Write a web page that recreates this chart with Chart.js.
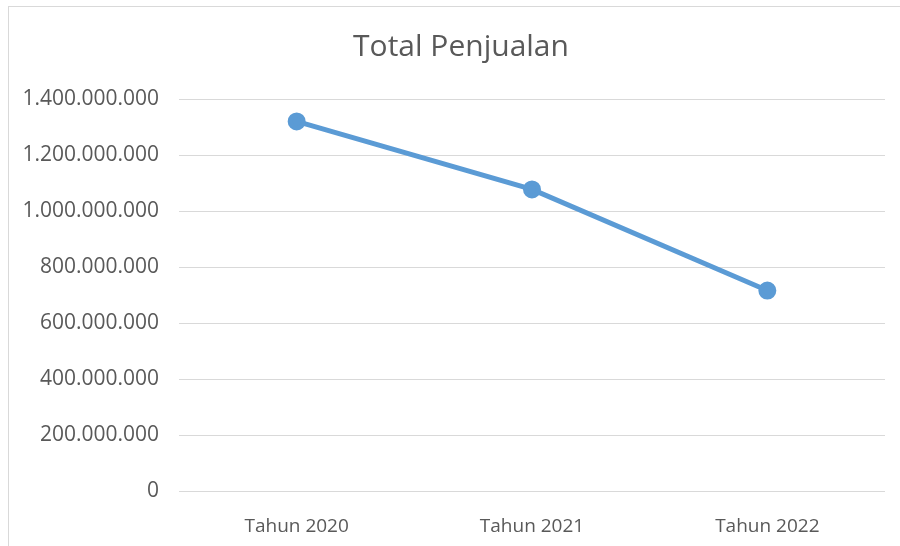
<!DOCTYPE html>
<html>
<head>
<meta charset="utf-8">
<script src="https://cdn.jsdelivr.net/npm/chart.js@4"></script>
<style>
  html, body { margin: 0; padding: 0; background: #fff; }
  #frame {
    position: absolute; left: 8px; top: 6px;
    width: 892px; height: 540px;
    border-left: 1px solid #d9d9d9; border-top: 1px solid #d9d9d9;
  }
  #mainCanvas { display: block; }
</style>
</head>
<body>
<div id="frame"><canvas id="mainCanvas" width="891" height="539"></canvas></div>
<script>
// data
const chartTitle = 'Total Penjualan';
const years = ['Tahun 2020', 'Tahun 2021', 'Tahun 2022'];
const totalSales = [1320000000, 1077000000, 716000000];
const yMax = 1400000000;
const yStep = 200000000;

function formatDots(v) {
  return String(Math.round(v)).replace(/\B(?=(\d{3})+(?!\d))/g, '.');
}

// the built-in title centres on the whole box; the original sits a bit right of that
const titlePlugin = {
  id: 'offsetTitle',
  afterDraw(chart) {
    const c = chart.ctx;
    c.save();
    c.font = "30px 'Open Sans', sans-serif";
    c.fillStyle = '#595959';
    c.textAlign = 'center';
    c.textBaseline = 'middle';
    c.fillText(chartTitle, chart.width / 2 + 6.5, 40);
    c.restore();
  }
};

document.addEventListener("DOMContentLoaded", () => {
  const ctx = document.getElementById('mainCanvas').getContext('2d');

  Chart.defaults.font.family = "'Open Sans', sans-serif";
  Chart.defaults.color = '#595959';

  new Chart(ctx, {
    type: 'line',
    data: {
      labels: years,
      datasets: [{
        label: chartTitle,
        data: totalSales,
        borderColor: '#5b9bd5',
        backgroundColor: '#5b9bd5',
        borderWidth: 5,
        pointRadius: 6.5,
        pointHoverRadius: 6.5,
        tension: 0
      }]
    },
    plugins: [titlePlugin],
    options: {
      responsive: false,
      animation: false,
      layout: { padding: { left: 0, right: 15, top: 92, bottom: 0 } },
      plugins: {
        legend: { display: false },
        tooltip: { enabled: false },
        title: { display: false }
      },
      scales: {
        x: {
          offset: true,
          grid: { display: false },
          border: { display: false },
          ticks: { font: { size: 19 }, padding: 16, color: '#595959' },
          afterFit: (scale) => { scale.height = 55; }
        },
        y: {
          min: 0,
          max: yMax,
          ticks: {
            stepSize: yStep,
            font: { size: 21 },
            padding: 20,
            color: '#595959',
            callback: (v) => formatDots(v)
          },
          grid: { color: '#d9d9d9', lineWidth: 1, drawTicks: false },
          border: { display: false },
          afterFit: (scale) => { scale.width = 170; }
        }
      }
    }
  });
});
</script>
</body>
</html>
